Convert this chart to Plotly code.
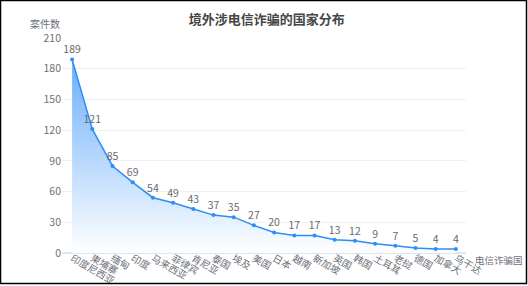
import plotly.graph_objects as go

countries = ["印度尼西亚", "柬埔寨", "缅甸", "印度", "马来西亚", "菲律宾", "肯尼亚", "泰国", "埃及", "美国",
             "日本", "越南", "新加坡", "英国", "韩国", "土耳其", "老挝", "德国", "加拿大", "乌干达"]
cases = [189, 121, 85, 69, 54, 49, 43, 37, 35, 27, 20, 17, 17, 13, 12, 9, 7, 5, 4, 4]
y_ticks = [0, 30, 60, 90, 120, 150, 180, 210]

FONT = "Noto Sans CJK SC, Noto Sans, sans-serif"
LINE = "#2b8ff7"
GRAY = "#6E7079"

fig = go.Figure()
fig.add_trace(go.Scatter(
    x=countries, y=cases, mode="lines+markers+text",
    text=[str(v) for v in cases], textposition="top center",
    textfont=dict(size=10.5, color="#6a6a6a", family=FONT),
    line=dict(color=LINE, width=1.5),
    marker=dict(size=4, color=LINE),
    fill="tozeroy",
    fillgradient=dict(type="vertical", start=0, stop=189,
                      colorscale=[[0, "rgba(255,255,255,0.9)"], [1, "rgba(90,165,250,0.9)"]]),
    cliponaxis=False,
    showlegend=False,
))

W, H = 528, 286
ml, mr, mt, mb = 62, 62, 38, 33
pw, ph = W - ml - mr, H - mt - mb

fig.update_layout(
    width=W, height=H,
    margin=dict(l=ml, r=mr, t=mt, b=mb, autoexpand=False),
    paper_bgcolor="white", plot_bgcolor="white",
    font=dict(family=FONT, color=GRAY, size=10),
    title=dict(text="<b>境外涉电信诈骗的国家分布</b>", x=0.505, xanchor="center",
               y=1 - 19 / H, yanchor="middle",
               font=dict(size=13, color="#464646", family=FONT)),
    xaxis=dict(type="category", range=[-0.5, 19.5], tickangle=30, automargin=False,
               showgrid=False, showline=False, ticks="", ticklabelstandoff=-3,
               tickfont=dict(size=9.8, color=GRAY)),
    yaxis=dict(range=[0, 210], tickvals=y_ticks, showgrid=True, gridcolor="#EEF0F5",
               automargin=False,
               zeroline=True, zerolinecolor="#E0E6F1", showline=False, ticks="",
               tickfont=dict(size=10.5, color=GRAY)),
    annotations=[
        dict(text="案件数", xref="paper", yref="paper", x=0, y=1, xanchor="right",
             yanchor="bottom", xshift=0, yshift=5, showarrow=False,
             font=dict(size=10, color=GRAY)),
        dict(text="电信诈骗国", xref="paper", yref="paper", x=1, y=0, xanchor="left",
             yanchor="middle", xshift=7, yshift=-7, showarrow=False,
             font=dict(size=9.5, color=GRAY)),
    ],
    shapes=[dict(type="rect", xref="paper", yref="paper",
                 x0=(0.5 - ml) / pw, x1=(526.5 - ml) / pw,
                 y0=(H - 283.5 - mb) / ph, y1=(H - 0.5 - mb) / ph,
                 line=dict(color="black", width=1.5), layer="above")],
)

fig.write_html("out.html")
